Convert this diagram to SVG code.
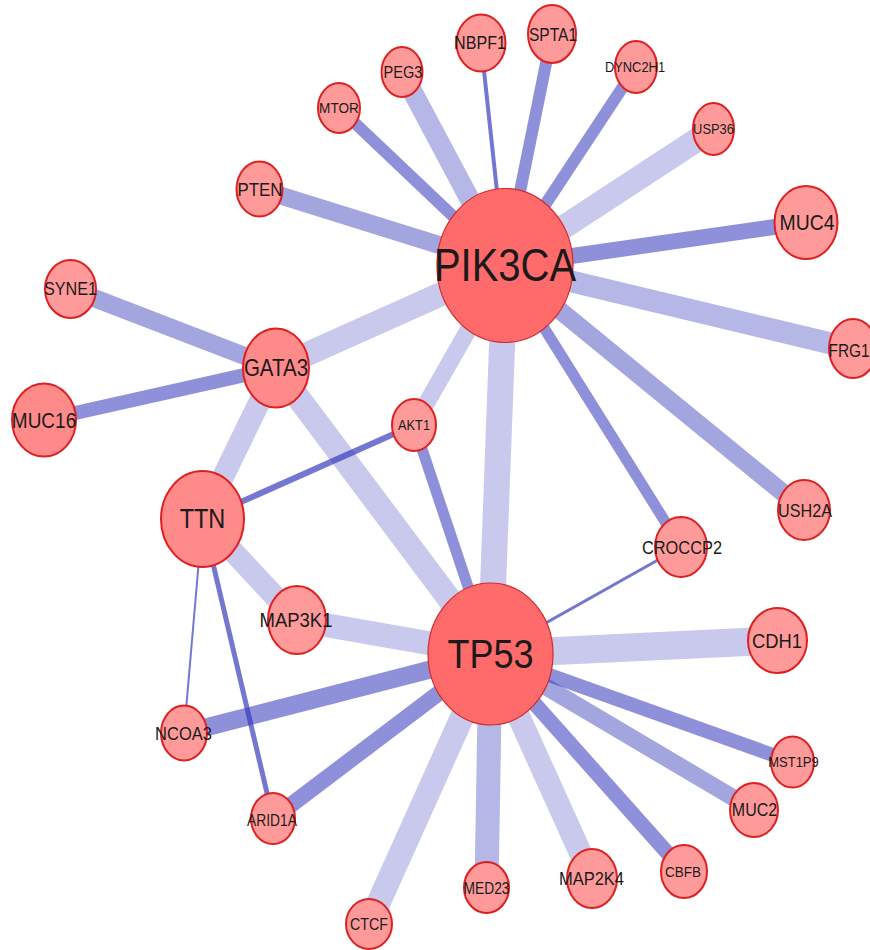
<svg xmlns="http://www.w3.org/2000/svg" width="870" height="950" viewBox="0 0 870 950">
<style>
.e{stroke:#3237b9;fill:none;stroke-linecap:butt}
.l{stroke-opacity:0.27}
.ml{stroke-opacity:0.36}
.m{stroke-opacity:0.45}
.d{stroke-opacity:0.55}
.t{stroke-opacity:0.68}
.n{fill:#ff9a9a;stroke:#dd2020;stroke-width:2}
.nm{fill:#ff8a8a;stroke:#dd2020;stroke-width:2}
.nb{fill:#ff6a6a;stroke:#d02a2a;stroke-width:1.2}
text{font-family:"Liberation Sans",Arial,sans-serif;fill:#1a1a1a;text-anchor:middle}
</style>
<rect width="870" height="950" fill="#ffffff"/>
<g id="edges">
<line class="e m" stroke-width="18" x1="505" y1="265.5" x2="259.5" y2="189"/>
<line class="e d" stroke-width="12" x1="505" y1="265.5" x2="339" y2="108"/>
<line class="e ml" stroke-width="20" x1="505" y1="265.5" x2="402" y2="72"/>
<line class="e t" stroke-width="4" x1="505" y1="265.5" x2="481" y2="43"/>
<line class="e d" stroke-width="12" x1="505" y1="265.5" x2="552" y2="34"/>
<line class="e d" stroke-width="12" x1="505" y1="265.5" x2="636" y2="67"/>
<line class="e l" stroke-width="24" x1="505" y1="265.5" x2="713.5" y2="129"/>
<line class="e d" stroke-width="16" x1="505" y1="265.5" x2="806" y2="222.5"/>
<line class="e ml" stroke-width="22" x1="505" y1="265.5" x2="852" y2="348.5"/>
<line class="e m" stroke-width="18" x1="505" y1="265.5" x2="804" y2="510"/>
<line class="e d" stroke-width="11" x1="505" y1="265.5" x2="681" y2="547"/>
<line class="e l" stroke-width="26" x1="505" y1="265.5" x2="490.5" y2="654"/>
<line class="e l" stroke-width="17" x1="505" y1="265.5" x2="414" y2="425"/>
<line class="e l" stroke-width="24" x1="505" y1="265.5" x2="276" y2="368"/>
<line class="e m" stroke-width="18" x1="276" y1="368" x2="70.5" y2="289"/>
<line class="e d" stroke-width="14" x1="276" y1="368" x2="44" y2="420"/>
<line class="e l" stroke-width="22" x1="276" y1="368" x2="202.5" y2="519"/>
<line class="e l" stroke-width="24" x1="276" y1="368" x2="490.5" y2="654"/>
<line class="e t" stroke-width="6" x1="202.5" y1="519" x2="414" y2="425"/>
<line class="e l" stroke-width="22" x1="202.5" y1="519" x2="297" y2="620"/>
<line class="e t" stroke-width="2" x1="202.5" y1="519" x2="184" y2="733"/>
<line class="e t" stroke-width="5" x1="202.5" y1="519" x2="273" y2="818.5"/>
<line class="e d" stroke-width="11" x1="414" y1="425" x2="490.5" y2="654"/>
<line class="e t" stroke-width="3" x1="681" y1="547" x2="490.5" y2="654"/>
<line class="e l" stroke-width="24" x1="490.5" y1="654" x2="297" y2="620"/>
<line class="e l" stroke-width="28" x1="490.5" y1="654" x2="777.5" y2="640.5"/>
<line class="e d" stroke-width="14" x1="490.5" y1="654" x2="792.5" y2="762"/>
<line class="e m" stroke-width="17" x1="490.5" y1="654" x2="754" y2="810"/>
<line class="e d" stroke-width="15" x1="490.5" y1="654" x2="684" y2="871.5"/>
<line class="e l" stroke-width="23" x1="490.5" y1="654" x2="592" y2="878.5"/>
<line class="e ml" stroke-width="24" x1="490.5" y1="654" x2="486.5" y2="887.5"/>
<line class="e l" stroke-width="24" x1="490.5" y1="654" x2="369" y2="924"/>
<line class="e d" stroke-width="16" x1="490.5" y1="654" x2="273" y2="818.5"/>
<line class="e d" stroke-width="18" x1="490.5" y1="654" x2="184" y2="733"/>
</g>
<g id="n-PIK3CA"><ellipse class="nb" cx="505" cy="265.5" rx="68" ry="77"/><text transform="translate(505,265.5) scale(1,1.14)" font-size="40" dy="0.35em">PIK3CA</text></g>
<g id="n-TP53"><ellipse class="nb" cx="490.5" cy="654" rx="62.5" ry="71"/><text transform="translate(490.5,654) scale(1,1.14)" font-size="36" dy="0.35em">TP53</text></g>
<g id="n-GATA3"><ellipse class="nm" cx="276" cy="368" rx="33" ry="39.5"/><text transform="translate(276,368) scale(1,1.14)" font-size="20.5" dy="0.35em">GATA3</text></g>
<g id="n-TTN"><ellipse class="nm" cx="202.5" cy="519" rx="41.5" ry="48"/><text transform="translate(202.5,519) scale(1,1.14)" font-size="23.5" dy="0.35em">TTN</text></g>
<g id="n-MUC16"><ellipse class="nm" cx="44" cy="420" rx="32" ry="36.5"/><text transform="translate(44,420) scale(1,1.14)" font-size="19" dy="0.35em">MUC16</text></g>
<g id="n-SYNE1"><ellipse class="n" cx="70.5" cy="289" rx="25.5" ry="29"/><text transform="translate(70.5,289) scale(1,1.14)" font-size="16.2" dy="0.35em">SYNE1</text></g>
<g id="n-AKT1"><ellipse class="n" cx="414" cy="425" rx="22" ry="26"/><text transform="translate(414,425) scale(1,1.14)" font-size="12.8" dy="0.35em">AKT1</text></g>
<g id="n-MAP3K1"><ellipse class="n" cx="297" cy="620" rx="29" ry="34"/><text transform="translate(296,620) scale(1,1.14)" font-size="18.5" dy="0.35em">MAP3K1</text></g>
<g id="n-NCOA3"><ellipse class="n" cx="184" cy="733" rx="23" ry="27.5"/><text transform="translate(183.5,733) scale(1,1.14)" font-size="16.5" dy="0.35em">NCOA3</text></g>
<g id="n-ARID1A"><ellipse class="n" cx="273" cy="818.5" rx="22" ry="25.5"/><text transform="translate(272,820) scale(1,1.14)" font-size="13.8" dy="0.35em">ARID1A</text></g>
<g id="n-CTCF"><ellipse class="n" cx="369" cy="924" rx="23" ry="25"/><text transform="translate(369,924) scale(1,1.14)" font-size="14.3" dy="0.35em">CTCF</text></g>
<g id="n-MED23"><ellipse class="n" cx="486.5" cy="887.5" rx="22.5" ry="25.5"/><text transform="translate(486.5,888) scale(1,1.14)" font-size="13.8" dy="0.35em">MED23</text></g>
<g id="n-MAP2K4"><ellipse class="n" cx="592" cy="878.5" rx="25" ry="29.5"/><text transform="translate(591.5,878.5) scale(1,1.14)" font-size="16.5" dy="0.35em">MAP2K4</text></g>
<g id="n-CBFB"><ellipse class="n" cx="684" cy="871.5" rx="23" ry="26.5"/><text transform="translate(683,871.5) scale(1,1.14)" font-size="13.5" dy="0.35em">CBFB</text></g>
<g id="n-MUC2"><ellipse class="n" cx="754" cy="810" rx="24" ry="27"/><text transform="translate(754.5,810) scale(1,1.14)" font-size="16" dy="0.35em">MUC2</text></g>
<g id="n-MST1P9"><ellipse class="n" cx="792.5" cy="762" rx="21.5" ry="25.5"/><text transform="translate(793.5,762) scale(1,1.14)" font-size="13" dy="0.35em">MST1P9</text></g>
<g id="n-CDH1"><ellipse class="n" cx="777.5" cy="640.5" rx="29.5" ry="32.5"/><text transform="translate(777,640.5) scale(1,1.14)" font-size="18.4" dy="0.35em">CDH1</text></g>
<g id="n-CROCCP2"><ellipse class="n" cx="681" cy="547" rx="26" ry="30"/><text transform="translate(682,547) scale(1,1.14)" font-size="16.4" dy="0.35em">CROCCP2</text></g>
<g id="n-USH2A"><ellipse class="n" cx="804" cy="510" rx="26" ry="30"/><text transform="translate(805,511) scale(1,1.14)" font-size="16.2" dy="0.35em">USH2A</text></g>
<g id="n-FRG1"><ellipse class="n" cx="853" cy="348.5" rx="24" ry="29.5"/><text transform="translate(849,351) scale(1,1.14)" font-size="15.4" dy="0.35em">FRG1</text></g>
<g id="n-MUC4"><ellipse class="n" cx="806" cy="222.5" rx="31.5" ry="36.5"/><text transform="translate(807,222.5) scale(1,1.14)" font-size="19.4" dy="0.35em">MUC4</text></g>
<g id="n-USP36"><ellipse class="n" cx="713.5" cy="129" rx="20.5" ry="26"/><text transform="translate(713.5,129) scale(1,1.14)" font-size="12.9" dy="0.35em">USP36</text></g>
<g id="n-DYNC2H1"><ellipse class="n" cx="636" cy="67" rx="21" ry="26"/><text transform="translate(635,67) scale(1,1.14)" font-size="12.9" dy="0.35em">DYNC2H1</text></g>
<g id="n-SPTA1"><ellipse class="n" cx="552" cy="34" rx="24" ry="29"/><text transform="translate(553,35) scale(1,1.14)" font-size="15.6" dy="0.35em">SPTA1</text></g>
<g id="n-NBPF1"><ellipse class="n" cx="481" cy="43" rx="24.5" ry="28.5"/><text transform="translate(480,43) scale(1,1.14)" font-size="16.1" dy="0.35em">NBPF1</text></g>
<g id="n-PEG3"><ellipse class="n" cx="402" cy="72" rx="20.5" ry="25"/><text transform="translate(403,72) scale(1,1.14)" font-size="14.6" dy="0.35em">PEG3</text></g>
<g id="n-MTOR"><ellipse class="n" cx="339" cy="108" rx="21" ry="25"/><text transform="translate(339,108) scale(1,1.14)" font-size="13.6" dy="0.35em">MTOR</text></g>
<g id="n-PTEN"><ellipse class="n" cx="259.5" cy="189" rx="23" ry="27.5"/><text transform="translate(260,189) scale(1,1.14)" font-size="16.9" dy="0.35em">PTEN</text></g>
</svg>
